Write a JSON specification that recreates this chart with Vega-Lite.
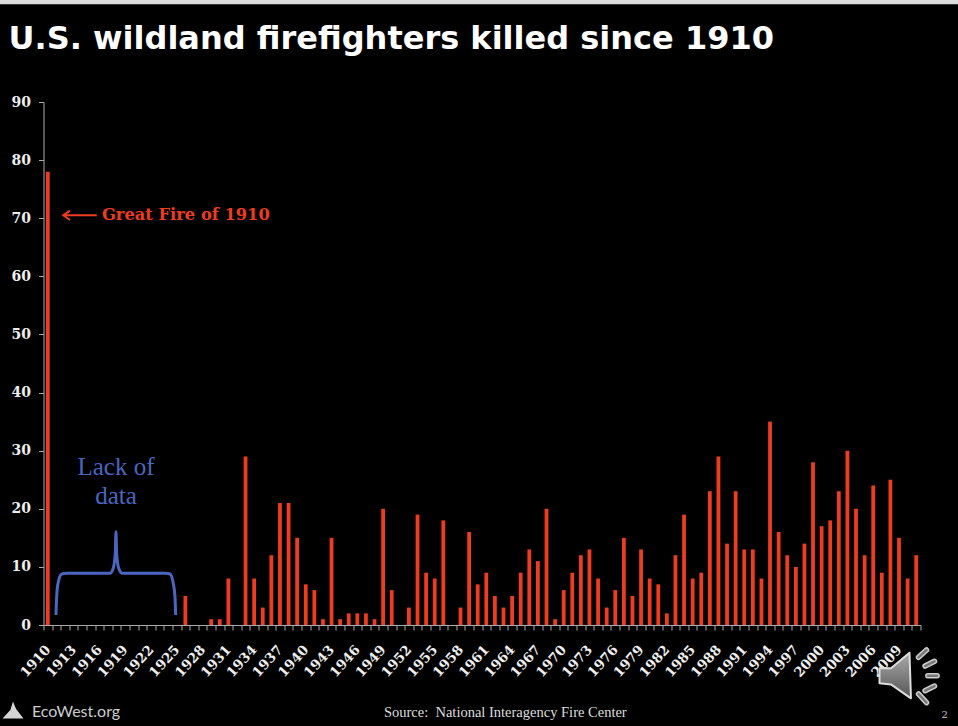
{
"$schema":"https://vega.github.io/schema/vega-lite/v6.json",
"width":877,"height":523,
"autosize":{"type":"none"},
"padding":{"left":43.5,"top":102,"right":37.5,"bottom":101},
"background":"#000000",
"config":{"view":{"stroke":null}},
"title":{"text":"U.S. wildland firefighters killed since 1910","anchor":"start","frame":"group","dx":-35,"offset":-56,"font":"DejaVu Sans","fontWeight":"bold","fontSize":32,"color":"#ffffff"},
"datasets":{
"deaths":[{"year":1910,"killed":78},{"year":1911,"killed":0},{"year":1912,"killed":0},{"year":1913,"killed":0},{"year":1914,"killed":0},{"year":1915,"killed":0},{"year":1916,"killed":0},{"year":1917,"killed":0},{"year":1918,"killed":0},{"year":1919,"killed":0},{"year":1920,"killed":0},{"year":1921,"killed":0},{"year":1922,"killed":0},{"year":1923,"killed":0},{"year":1924,"killed":0},{"year":1925,"killed":0},{"year":1926,"killed":5},{"year":1927,"killed":0},{"year":1928,"killed":0},{"year":1929,"killed":1},{"year":1930,"killed":1},{"year":1931,"killed":8},{"year":1932,"killed":0},{"year":1933,"killed":29},{"year":1934,"killed":8},{"year":1935,"killed":3},{"year":1936,"killed":12},{"year":1937,"killed":21},{"year":1938,"killed":21},{"year":1939,"killed":15},{"year":1940,"killed":7},{"year":1941,"killed":6},{"year":1942,"killed":1},{"year":1943,"killed":15},{"year":1944,"killed":1},{"year":1945,"killed":2},{"year":1946,"killed":2},{"year":1947,"killed":2},{"year":1948,"killed":1},{"year":1949,"killed":20},{"year":1950,"killed":6},{"year":1951,"killed":0},{"year":1952,"killed":3},{"year":1953,"killed":19},{"year":1954,"killed":9},{"year":1955,"killed":8},{"year":1956,"killed":18},{"year":1957,"killed":0},{"year":1958,"killed":3},{"year":1959,"killed":16},{"year":1960,"killed":7},{"year":1961,"killed":9},{"year":1962,"killed":5},{"year":1963,"killed":3},{"year":1964,"killed":5},{"year":1965,"killed":9},{"year":1966,"killed":13},{"year":1967,"killed":11},{"year":1968,"killed":20},{"year":1969,"killed":1},{"year":1970,"killed":6},{"year":1971,"killed":9},{"year":1972,"killed":12},{"year":1973,"killed":13},{"year":1974,"killed":8},{"year":1975,"killed":3},{"year":1976,"killed":6},{"year":1977,"killed":15},{"year":1978,"killed":5},{"year":1979,"killed":13},{"year":1980,"killed":8},{"year":1981,"killed":7},{"year":1982,"killed":2},{"year":1983,"killed":12},{"year":1984,"killed":19},{"year":1985,"killed":8},{"year":1986,"killed":9},{"year":1987,"killed":23},{"year":1988,"killed":29},{"year":1989,"killed":14},{"year":1990,"killed":23},{"year":1991,"killed":13},{"year":1992,"killed":13},{"year":1993,"killed":8},{"year":1994,"killed":35},{"year":1995,"killed":16},{"year":1996,"killed":12},{"year":1997,"killed":10},{"year":1998,"killed":14},{"year":1999,"killed":28},{"year":2000,"killed":17},{"year":2001,"killed":18},{"year":2002,"killed":23},{"year":2003,"killed":30},{"year":2004,"killed":20},{"year":2005,"killed":12},{"year":2006,"killed":24},{"year":2007,"killed":9},{"year":2008,"killed":25},{"year":2009,"killed":15},{"year":2010,"killed":8},{"year":2011,"killed":12}],
"brace":[{"x":1910.95,"y":1.72},{"x":1911.03,"y":4.87},{"x":1911.19,"y":7.18},{"x":1911.62,"y":8.78},{"x":1912.2,"y":8.9},{"x":1917.23,"y":8.9},{"x":1917.62,"y":9.81},{"x":1917.85,"y":12.39},{"x":1917.93,"y":16.06},{"x":1918.0,"y":12.39},{"x":1918.24,"y":9.81},{"x":1918.66,"y":8.9},{"x":1923.7,"y":8.9},{"x":1924.21,"y":8.78},{"x":1924.59,"y":7.18},{"x":1924.79,"y":4.87},{"x":1924.87,"y":1.72}],
"arrow":[{"part":"shaft","x":1911.8,"y":70.5},{"part":"shaft","x":1915.69,"y":70.5},{"part":"head","x":1912.58,"y":71.3},{"part":"head","x":1911.8,"y":70.5},{"part":"head","x":1912.58,"y":69.7}],
"rays":[{"ray":1,"x":2011.27,"y":-5.56},{"ray":1,"x":2012.2,"y":-4.3},{"ray":2,"x":2012.03,"y":-7.06},{"ray":2,"x":2013.13,"y":-6.25},{"ray":3,"x":2012.35,"y":-8.72},{"ray":3,"x":2013.43,"y":-8.72},{"ray":4,"x":2012.03,"y":-11.31},{"ray":4,"x":2013.13,"y":-10.5},{"ray":5,"x":2011.27,"y":-11.87},{"ray":5,"x":2012.2,"y":-13.37}]
},
"resolve":{"scale":{"x":"independent","y":"independent"}},
"layer":[
{"data":{"values":[{"x":1904.44,"x2":2015.93,"y":107.55,"y2":106.8}]},
 "mark":{"type":"rect","color":"#dddddd","clip":false},
 "encoding":{"x":{"field":"x","type":"quantitative","scale":{"domain":[1909.5,2011.5],"nice":false,"zero":false},"axis":null},"x2":{"field":"x2"},"y":{"field":"y","type":"quantitative","scale":{"domain":[0,90]},"axis":null},"y2":{"field":"y2"}}},
{"data":{"name":"deaths"},
 "mark":{"type":"bar","color":"#f03c1e","width":{"band":0.44}},
 "encoding":{
  "x":{"field":"year","type":"ordinal","scale":{"paddingInner":0,"paddingOuter":0},
   "axis":{"title":null,"labelAngle":-48,"labelAlign":"right","labelBaseline":"middle","labelOverlap":false,"labelExpr":"(toNumber(datum.value)-1910)%3==0 ? datum.label : ''","labelFont":"DejaVu Serif","labelFontWeight":"bold","labelFontSize":13.5,"labelColor":"#eeeeee","labelPadding":17,"tickBand":"extent","tickSize":5,"tickColor":"#aaaaaa","domainColor":"#aaaaaa","grid":false}},
  "y":{"field":"killed","type":"quantitative","scale":{"domain":[0,90]},
   "axis":{"title":null,"values":[0,10,20,30,40,50,60,70,80,90],"labelFont":"DejaVu Serif","labelFontWeight":"bold","labelFontSize":14,"labelColor":"#eeeeee","labelPadding":8,"tickSize":5,"tickColor":"#aaaaaa","domainColor":"#aaaaaa","grid":false}}}},
{"data":{"name":"brace"},
 "mark":{"type":"line","color":"#4a66c0","strokeWidth":3,"interpolate":"monotone"},
 "encoding":{"x":{"field":"x","type":"quantitative","scale":{"domain":[1909.5,2011.5],"nice":false,"zero":false},"axis":null},"y":{"field":"y","type":"quantitative","scale":{"domain":[0,90]},"axis":null}}},
{"data":{"name":"arrow"},
 "mark":{"type":"line","color":"#f03c1e","strokeWidth":2},
 "encoding":{"detail":{"field":"part"},"order":{"field":"y","type":"quantitative"},"x":{"field":"x","type":"quantitative","scale":{"domain":[1909.5,2011.5],"nice":false,"zero":false},"axis":null},"y":{"field":"y","type":"quantitative","scale":{"domain":[0,90]},"axis":null}}},
{"data":{"values":[{"x":1916.3,"y":70.5,"t":"Great Fire of 1910"}]},
 "mark":{"type":"text","align":"left","baseline":"middle","font":"DejaVu Serif","fontWeight":"bold","fontSize":16.3,"color":"#f03c1e"},
 "encoding":{"text":{"field":"t"},"x":{"field":"x","type":"quantitative","scale":{"domain":[1909.5,2011.5],"nice":false,"zero":false},"axis":null},"y":{"field":"y","type":"quantitative","scale":{"domain":[0,90]},"axis":null}}},
{"data":{"values":[{"x":1917.93,"y":27.19,"t":"Lack of"},{"x":1917.93,"y":22.2,"t":"data"}]},
 "mark":{"type":"text","align":"center","baseline":"middle","font":"Liberation Serif","fontSize":25,"color":"#4a66c0"},
 "encoding":{"text":{"field":"t"},"x":{"field":"x","type":"quantitative","scale":{"domain":[1909.5,2011.5],"nice":false,"zero":false},"axis":null},"y":{"field":"y","type":"quantitative","scale":{"domain":[0,90]},"axis":null}}},
{"data":{"values":[{"x":1949.09,"y":-15.14,"t":"Source:\u00a0 National Interagency Fire Center"}]},
 "mark":{"type":"text","align":"left","baseline":"middle","font":"Liberation Serif","fontSize":14.5,"color":"#dddddd"},
 "encoding":{"text":{"field":"t"},"x":{"field":"x","type":"quantitative","scale":{"domain":[1909.5,2011.5],"nice":false,"zero":false},"axis":null},"y":{"field":"y","type":"quantitative","scale":{"domain":[0,90]},"axis":null}}},
{"data":{"values":[{"x":1908.16,"y":-14.97,"t":"EcoWest.org"}]},
 "mark":{"type":"text","align":"left","baseline":"middle","font":"Lato","fontSize":16,"color":"#cccccc"},
 "encoding":{"text":{"field":"t"},"x":{"field":"x","type":"quantitative","scale":{"domain":[1909.5,2011.5],"nice":false,"zero":false},"axis":null},"y":{"field":"y","type":"quantitative","scale":{"domain":[0,90]},"axis":null}}},
{"data":{"values":[{"x":2014.3,"y":-15.49,"t":"2"}]},
 "mark":{"type":"text","align":"center","baseline":"middle","font":"DejaVu Serif","fontSize":10,"color":"#cccccc"},
 "encoding":{"text":{"field":"t"},"x":{"field":"x","type":"quantitative","scale":{"domain":[1909.5,2011.5],"nice":false,"zero":false},"axis":null},"y":{"field":"y","type":"quantitative","scale":{"domain":[0,90]},"axis":null}}},
{"data":{"values":[{"x":1905.95,"y":-14.63}]},
 "mark":{"type":"point","filled":true,"shape":"M-1,0.8 L-0.25,0 L0,-0.8 L0.3,-0.1 L1,0.8 Z","size":441,"color":"#d5d5d5","opacity":1},
 "encoding":{"x":{"field":"x","type":"quantitative","scale":{"domain":[1909.5,2011.5],"nice":false,"zero":false},"axis":null},"y":{"field":"y","type":"quantitative","scale":{"domain":[0,90]},"axis":null}}},
{"data":{"values":[{"x":2008.63,"y":-8.78}]},
 "mark":{"type":"point","shape":"M-0.68,-0.32 L-0.2,-0.32 L0.57,-0.97 L0.63,0.93 L-0.2,0.35 L-0.68,0.3 Z","size":2304,"filled":true,"opacity":1,"fill":{"gradient":"linear","x1":0,"y1":0,"x2":0,"y2":1,"stops":[{"offset":0,"color":"#aaaaaa"},{"offset":1,"color":"#555555"}]},"stroke":"#dddddd","strokeWidth":2,"strokeJoin":"round"},
 "encoding":{"x":{"field":"x","type":"quantitative","scale":{"domain":[1909.5,2011.5],"nice":false,"zero":false},"axis":null},"y":{"field":"y","type":"quantitative","scale":{"domain":[0,90]},"axis":null}}},
{"data":{"name":"rays"},
 "mark":{"type":"line","color":"#cccccc","strokeWidth":5.5,"strokeCap":"round"},
 "encoding":{"detail":{"field":"ray"},"x":{"field":"x","type":"quantitative","scale":{"domain":[1909.5,2011.5],"nice":false,"zero":false},"axis":null},"y":{"field":"y","type":"quantitative","scale":{"domain":[0,90]},"axis":null}}},
{"data":{"name":"rays"},
 "mark":{"type":"line","color":"#777777","strokeWidth":2.5,"strokeCap":"round"},
 "encoding":{"detail":{"field":"ray"},"x":{"field":"x","type":"quantitative","scale":{"domain":[1909.5,2011.5],"nice":false,"zero":false},"axis":null},"y":{"field":"y","type":"quantitative","scale":{"domain":[0,90]},"axis":null}}}
]
}
